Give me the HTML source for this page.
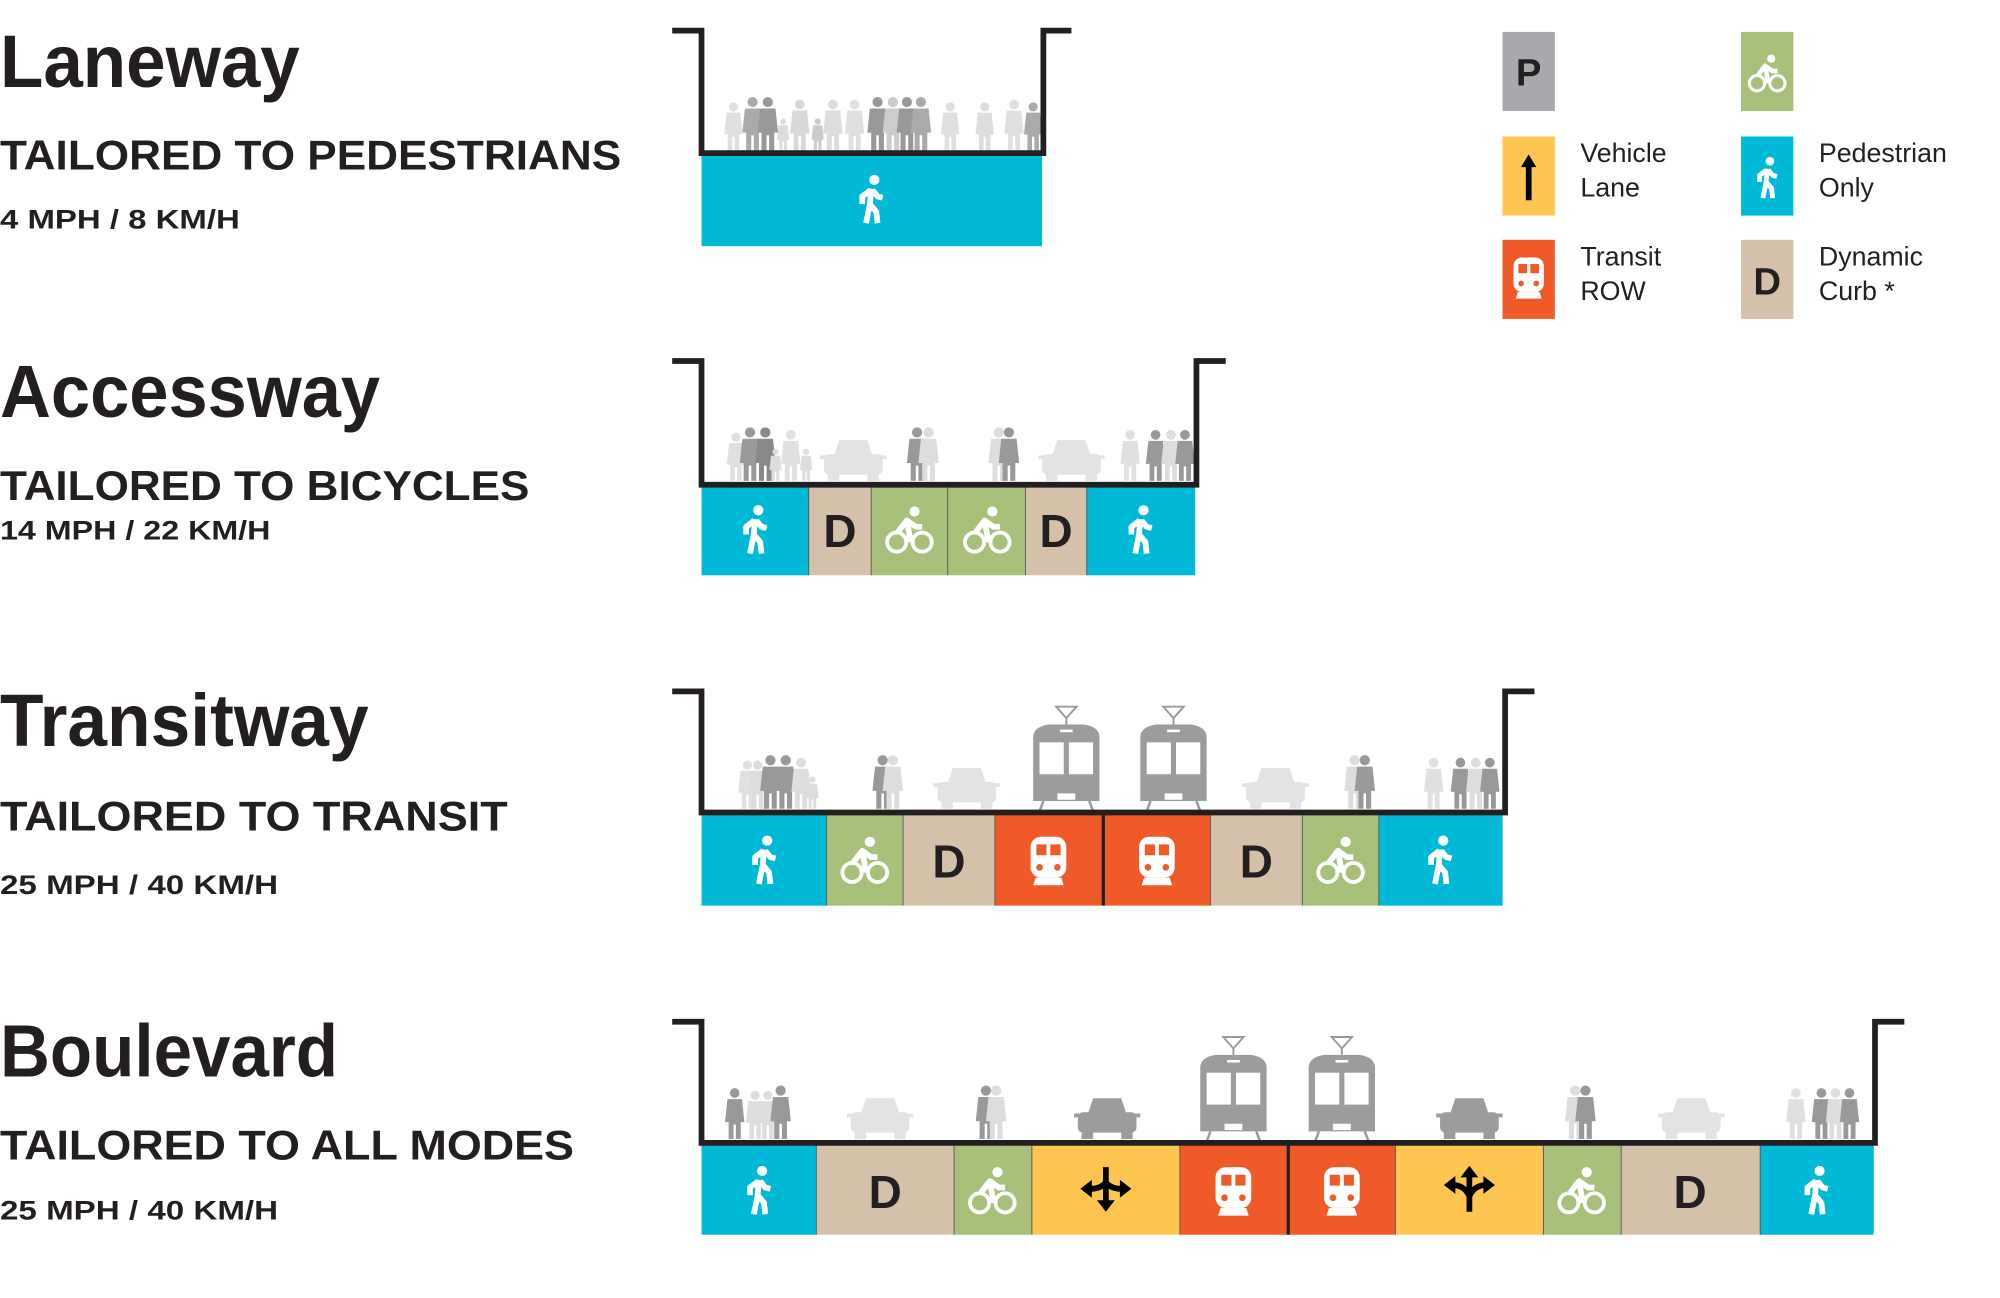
<!DOCTYPE html>
<html><head><meta charset="utf-8"><style>
html,body{margin:0;padding:0;background:#fff;}
svg{display:block;}
text{font-family:"Liberation Sans",sans-serif;}
</style></head><body>
<svg width="2000" height="1298" viewBox="0 0 1568 1017.6" xmlns="http://www.w3.org/2000/svg">
<defs>
<g id="ped">
<circle cx="2.5" cy="-16" r="4" fill="#fff"/>
<path d="M0,-9 L-1,3 L-4,18 M-1,3 L4,9 L5,18 M-0.5,-8 L-7,-3 L-7,3 M1,-8 L5,-3 L9,-2" stroke="#fff" stroke-width="4.5" fill="none" stroke-linejoin="round"/>
</g>
<g id="bike">
<circle cx="-10" cy="9" r="7.5" stroke="#fff" stroke-width="3" fill="none"/>
<circle cx="10" cy="9" r="7.5" stroke="#fff" stroke-width="3" fill="none"/>
<circle cx="4" cy="-15" r="4" fill="#fff"/>
<path d="M-9,1 L-2,-8 L5,-3 L10,-3 M-2,-8 L1,9" stroke="#fff" stroke-width="4.5" fill="none" stroke-linejoin="round"/>
</g>
<g id="train">
<rect x="-14" y="-19" width="28" height="32" rx="8" fill="#fff"/>
<rect x="-9.5" y="-13" width="8" height="8.5" fill="#F05A28"/>
<rect x="1.5" y="-13" width="8" height="8.5" fill="#F05A28"/>
<circle cx="-7" cy="5" r="2.6" fill="#F05A28"/>
<circle cx="7" cy="5" r="2.6" fill="#F05A28"/>
<path d="M-10,13 H10 L12,19 H-12 Z" fill="#fff"/>
</g>
<g id="person">
<circle cx="0" cy="-38" r="4"/>
<path d="M-6,-33 H6 L8,-14 H5 V0 H1 V-12 H-1 V0 H-5 V-14 H-8 Z"/>
</g>
<g id="car">
<path d="M-15,-20 L-11,-32 H11 L15,-20 Z"/>
<rect x="-23" y="-21" width="46" height="16" rx="4"/>
<rect x="-20" y="-7" width="9" height="7"/>
<rect x="11" y="-7" width="9" height="7"/>
<rect x="-26" y="-20" width="5" height="3"/>
<rect x="21" y="-20" width="5" height="3"/>
</g>
<g id="tram">
<path d="M-8,-80 H8 L0,-71 Z" fill="none" stroke="#999" stroke-width="1.5"/>
<line x1="0" y1="-71" x2="0" y2="-66" stroke="#999" stroke-width="1.5"/>
<path d="M-26,-56 Q-26,-64 -14,-66 H14 Q26,-64 26,-56 V-6 H-26 Z" fill="#9c9c9e"/>
<rect x="-21" y="-52" width="19" height="25" fill="#fff"/>
<rect x="2" y="-52" width="19" height="25" fill="#fff"/>
<rect x="-5" y="-62" width="10" height="2" fill="#fff"/>
<rect x="-7" y="-12" width="14" height="5" fill="#fff"/>
<path d="M-18,-6 L-21,2 M18,-6 L21,2" stroke="#9c9c9e" stroke-width="2"/>
</g>
<g id="arrowA">
<path d="M0,-17 V10 M0,-5 Q-4,0 -12,0 M0,-5 Q4,0 12,0" stroke="#000" stroke-width="4.5" fill="none"/>
<path d="M-7,9 H7 L0,18 Z M-11,-7 V7 L-20,0 Z M11,-7 V7 L20,0 Z" fill="#000"/>
</g>
<g id="arrowB">
<path d="M0,18 V-10 M0,6 Q-3,-2 -12,-3 M0,6 Q3,-2 12,-3" stroke="#000" stroke-width="4.5" fill="none"/>
<path d="M-7,-9 H7 L0,-18 Z M-11,-10 V4 L-20,-3 Z M11,-10 V4 L20,-3 Z" fill="#000"/>
</g>
<g id="uparrow">
<path d="M0,-10 V18" stroke="#000" stroke-width="4.5"/>
<path d="M-6,-8 H6 L0,-18 Z" fill="#000"/>
</g>
</defs>

<g fill="#231f20">
<text x="0" y="68" font-size="58" font-weight="bold" textLength="235" lengthAdjust="spacingAndGlyphs">Laneway</text>
<text x="0" y="133" font-size="33" font-weight="bold" textLength="487" lengthAdjust="spacingAndGlyphs">TAILORED TO PEDESTRIANS</text>
<text x="0" y="179" font-size="21" font-weight="bold" textLength="188" lengthAdjust="spacingAndGlyphs">4 MPH / 8 KM/H</text>

<text x="0" y="327" font-size="58" font-weight="bold" textLength="298" lengthAdjust="spacingAndGlyphs">Accessway</text>
<text x="0" y="392" font-size="33" font-weight="bold" textLength="415" lengthAdjust="spacingAndGlyphs">TAILORED TO BICYCLES</text>
<text x="0" y="423" font-size="21" font-weight="bold" textLength="212" lengthAdjust="spacingAndGlyphs">14 MPH / 22 KM/H</text>

<text x="0" y="585" font-size="58" font-weight="bold" textLength="289" lengthAdjust="spacingAndGlyphs">Transitway</text>
<text x="0" y="651" font-size="33" font-weight="bold" textLength="398" lengthAdjust="spacingAndGlyphs">TAILORED TO TRANSIT</text>
<text x="0" y="701" font-size="21" font-weight="bold" textLength="218" lengthAdjust="spacingAndGlyphs">25 MPH / 40 KM/H</text>

<text x="0" y="844" font-size="58" font-weight="bold" textLength="265" lengthAdjust="spacingAndGlyphs">Boulevard</text>
<text x="0" y="909" font-size="33" font-weight="bold" textLength="450" lengthAdjust="spacingAndGlyphs">TAILORED TO ALL MODES</text>
<text x="0" y="956" font-size="21" font-weight="bold" textLength="218" lengthAdjust="spacingAndGlyphs">25 MPH / 40 KM/H</text>
</g>

<rect x="1178" y="25" width="41" height="62" fill="#A7A9AC"/>
<text x="1198.5" y="67" font-size="30" font-weight="bold" text-anchor="middle" fill="#231f20">P</text>
<rect x="1365" y="25" width="41" height="62" fill="#A8C17A"/>
<use href="#bike" transform="translate(1385.5,58) scale(0.8)"/>
<rect x="1178" y="107" width="41" height="62" fill="#FEC650"/>
<use href="#uparrow" transform="translate(1198.5,139) scale(1)"/>
<rect x="1365" y="107" width="41" height="62" fill="#00B9D6"/>
<use href="#ped" transform="translate(1385.5,140) scale(0.85)"/>
<rect x="1178" y="188" width="41" height="62" fill="#F05A28"/>
<use href="#train" transform="translate(1198.5,218) scale(0.85)"/>
<rect x="1365" y="188" width="41" height="62" fill="#D5C1AA"/>
<text x="1385.5" y="231" font-size="30" font-weight="bold" text-anchor="middle" fill="#231f20">D</text>
<g font-size="21" fill="#231f20">
<text x="1239" y="127">Vehicle</text><text x="1239" y="154">Lane</text>
<text x="1426" y="127">Pedestrian</text><text x="1426" y="154">Only</text>
<text x="1239" y="208">Transit</text><text x="1239" y="235">ROW</text>
<text x="1426" y="208">Dynamic</text><text x="1426" y="235">Curb *</text>
</g>

<!-- LANEWAY -->
<g>
<use href="#person" transform="translate(575,118) scale(0.9)" fill="#e0e0e0"/>
<use href="#person" transform="translate(590,118)" fill="#aaa"/>
<use href="#person" transform="translate(602,118)" fill="#999"/>
<use href="#person" transform="translate(614,118) scale(0.6)" fill="#ddd"/>
<use href="#person" transform="translate(627,118) scale(0.95)" fill="#d8d8d8"/>
<use href="#person" transform="translate(641,118) scale(0.6)" fill="#ccc"/>
<use href="#person" transform="translate(653,118) scale(0.95)" fill="#ddd"/>
<use href="#person" transform="translate(670,118) scale(0.95)" fill="#e0e0e0"/>
<use href="#person" transform="translate(688,118)" fill="#999"/>
<use href="#person" transform="translate(700,118)" fill="#ccc"/>
<use href="#person" transform="translate(711,118)" fill="#999"/>
<use href="#person" transform="translate(722,118)" fill="#aaa"/>
<use href="#person" transform="translate(745,118) scale(0.9)" fill="#e0e0e0"/>
<use href="#person" transform="translate(772,118) scale(0.9)" fill="#ddd"/>
<use href="#person" transform="translate(795,118) scale(0.95)" fill="#e0e0e0"/>
<use href="#person" transform="translate(810,118) scale(0.9)" fill="#aaa"/>
</g>
<rect x="550" y="122" width="267" height="71" fill="#00B9D6"/>
<use href="#ped" transform="translate(683,157)"/>
<path d="M527,24 H550 V120 H818 V24 H840" stroke="#231f20" stroke-width="4.5" fill="none"/>

<!-- ACCESSWAY -->
<g>
<use href="#person" transform="translate(577,377) scale(0.9)" fill="#e0e0e0"/>
<use href="#person" transform="translate(588,377)" fill="#999"/>
<use href="#person" transform="translate(600,377)" fill="#888"/>
<use href="#person" transform="translate(608,377) scale(0.6)" fill="#ddd"/>
<use href="#person" transform="translate(620,377) scale(0.95)" fill="#e0e0e0"/>
<use href="#person" transform="translate(632,377) scale(0.6)" fill="#ddd"/>
<use href="#car" transform="translate(669,377)" fill="#e3e3e4"/>
<use href="#person" transform="translate(719,377)" fill="#999"/>
<use href="#person" transform="translate(728,377)" fill="#ddd"/>
<use href="#person" transform="translate(783,377)" fill="#ddd"/>
<use href="#person" transform="translate(791,377)" fill="#999"/>
<use href="#car" transform="translate(840,377)" fill="#e3e3e4"/>
<use href="#person" transform="translate(886,377) scale(0.95)" fill="#e0e0e0"/>
<use href="#person" transform="translate(906,377) scale(0.95)" fill="#999"/>
<use href="#person" transform="translate(918,377) scale(0.95)" fill="#ddd"/>
<use href="#person" transform="translate(929,377) scale(0.95)" fill="#999"/>
</g>
<rect x="550" y="382" width="84" height="69" fill="#00B9D6"/>
<rect x="634" y="382" width="49" height="69" fill="#D5C1AA"/>
<rect x="683" y="382" width="60" height="69" fill="#A8C17A"/>
<rect x="743" y="382" width="61" height="69" fill="#A8C17A"/>
<rect x="804" y="382" width="48" height="69" fill="#D5C1AA"/>
<rect x="852" y="382" width="85" height="69" fill="#00B9D6"/>
<g stroke="#555" stroke-width="0.7"><path d="M634,382V451M683,382V451M743,382V451M804,382V451M852,382V451"/></g>
<use href="#ped" transform="translate(592,416)"/>
<text x="658.5" y="429" font-size="36" font-weight="bold" text-anchor="middle" fill="#231f20">D</text>
<use href="#bike" transform="translate(713,416)"/>
<use href="#bike" transform="translate(774,416)"/>
<text x="828" y="429" font-size="36" font-weight="bold" text-anchor="middle" fill="#231f20">D</text>
<use href="#ped" transform="translate(894,416)"/>
<path d="M527,283 H550 V380 H938 V283 H961" stroke="#231f20" stroke-width="4.5" fill="none"/>

<!-- TRANSITWAY -->
<g>
<use href="#person" transform="translate(586,634) scale(0.9)" fill="#e0e0e0"/>
<use href="#person" transform="translate(594,634) scale(0.9)" fill="#ddd"/>
<use href="#person" transform="translate(604,634)" fill="#999"/>
<use href="#person" transform="translate(616,634)" fill="#999"/>
<use href="#person" transform="translate(628,634) scale(0.95)" fill="#ddd"/>
<use href="#person" transform="translate(637,634) scale(0.6)" fill="#ddd"/>
<use href="#person" transform="translate(692,634)" fill="#999"/>
<use href="#person" transform="translate(700,634)" fill="#ddd"/>
<use href="#car" transform="translate(758,634)" fill="#e3e3e4"/>
<use href="#tram" transform="translate(836,634)"/>
<use href="#tram" transform="translate(920,634)"/>
<use href="#car" transform="translate(1000,634)" fill="#e3e3e4"/>
<use href="#person" transform="translate(1062,634)" fill="#ddd"/>
<use href="#person" transform="translate(1070,634)" fill="#999"/>
<use href="#person" transform="translate(1124,634) scale(0.95)" fill="#e0e0e0"/>
<use href="#person" transform="translate(1145,634) scale(0.95)" fill="#999"/>
<use href="#person" transform="translate(1157,634) scale(0.95)" fill="#ddd"/>
<use href="#person" transform="translate(1168,634) scale(0.95)" fill="#999"/>
</g>
<rect x="550" y="639" width="98" height="71" fill="#00B9D6"/>
<rect x="648" y="639" width="60" height="71" fill="#A8C17A"/>
<rect x="708" y="639" width="72" height="71" fill="#D5C1AA"/>
<rect x="780" y="639" width="85" height="71" fill="#F05A28"/>
<rect x="865" y="639" width="84" height="71" fill="#F05A28"/>
<rect x="949" y="639" width="72" height="71" fill="#D5C1AA"/>
<rect x="1021" y="639" width="60" height="71" fill="#A8C17A"/>
<rect x="1081" y="639" width="97" height="71" fill="#00B9D6"/>
<g stroke="#555" stroke-width="0.7"><path d="M648,639V710M708,639V710M780,639V710M949,639V710M1021,639V710M1081,639V710"/></g>
<path d="M865,637V710" stroke="#231f20" stroke-width="2.5"/>
<use href="#ped" transform="translate(599,675)"/>
<use href="#bike" transform="translate(678,675)"/>
<text x="744" y="688" font-size="36" font-weight="bold" text-anchor="middle" fill="#231f20">D</text>
<use href="#train" transform="translate(822,675)"/>
<use href="#train" transform="translate(907,675)"/>
<text x="985" y="688" font-size="36" font-weight="bold" text-anchor="middle" fill="#231f20">D</text>
<use href="#bike" transform="translate(1051,675)"/>
<use href="#ped" transform="translate(1129,675)"/>
<path d="M527,542 H550 V637 H1180 V542 H1203" stroke="#231f20" stroke-width="4.5" fill="none"/>

<!-- BOULEVARD -->
<g>
<use href="#person" transform="translate(576,893) scale(0.95)" fill="#999"/>
<use href="#person" transform="translate(592,893) scale(0.9)" fill="#ddd"/>
<use href="#person" transform="translate(602,893) scale(0.9)" fill="#ddd"/>
<use href="#person" transform="translate(612,893)" fill="#999"/>
<use href="#car" transform="translate(690,893)" fill="#e3e3e4"/>
<use href="#person" transform="translate(773,893)" fill="#999"/>
<use href="#person" transform="translate(781,893)" fill="#ddd"/>
<use href="#car" transform="translate(868,893)" fill="#9c9c9e"/>
<use href="#tram" transform="translate(967,893)"/>
<use href="#tram" transform="translate(1052,893)"/>
<use href="#car" transform="translate(1152,893)" fill="#9c9c9e"/>
<use href="#person" transform="translate(1235,893)" fill="#ddd"/>
<use href="#person" transform="translate(1243,893)" fill="#999"/>
<use href="#car" transform="translate(1326,893)" fill="#e3e3e4"/>
<use href="#person" transform="translate(1408,893) scale(0.95)" fill="#e0e0e0"/>
<use href="#person" transform="translate(1428,893) scale(0.95)" fill="#999"/>
<use href="#person" transform="translate(1439,893) scale(0.95)" fill="#ddd"/>
<use href="#person" transform="translate(1450,893) scale(0.95)" fill="#999"/>
</g>
<rect x="550" y="898" width="90" height="70" fill="#00B9D6"/>
<rect x="640" y="898" width="108" height="70" fill="#D5C1AA"/>
<rect x="748" y="898" width="61" height="70" fill="#A8C17A"/>
<rect x="809" y="898" width="116" height="70" fill="#FEC650"/>
<rect x="925" y="898" width="85" height="70" fill="#F05A28"/>
<rect x="1010" y="898" width="84" height="70" fill="#F05A28"/>
<rect x="1094" y="898" width="116" height="70" fill="#FEC650"/>
<rect x="1210" y="898" width="61" height="70" fill="#A8C17A"/>
<rect x="1271" y="898" width="109" height="70" fill="#D5C1AA"/>
<rect x="1380" y="898" width="89" height="70" fill="#00B9D6"/>
<g stroke="#555" stroke-width="0.7"><path d="M640,898V968M748,898V968M809,898V968M925,898V968M1094,898V968M1210,898V968M1271,898V968M1380,898V968"/></g>
<path d="M1010,896V968" stroke="#231f20" stroke-width="2.5"/>
<use href="#ped" transform="translate(595,934)"/>
<text x="694" y="947" font-size="36" font-weight="bold" text-anchor="middle" fill="#231f20">D</text>
<use href="#bike" transform="translate(778,934)"/>
<use href="#arrowA" transform="translate(867,932)"/>
<use href="#train" transform="translate(967,934)"/>
<use href="#train" transform="translate(1052,934)"/>
<use href="#arrowB" transform="translate(1152,932)"/>
<use href="#bike" transform="translate(1240,934)"/>
<text x="1325" y="947" font-size="36" font-weight="bold" text-anchor="middle" fill="#231f20">D</text>
<use href="#ped" transform="translate(1424,934)"/>
<path d="M527,801 H550 V896 H1470 V801 H1493" stroke="#231f20" stroke-width="4.5" fill="none"/>
</svg>
</body></html>
